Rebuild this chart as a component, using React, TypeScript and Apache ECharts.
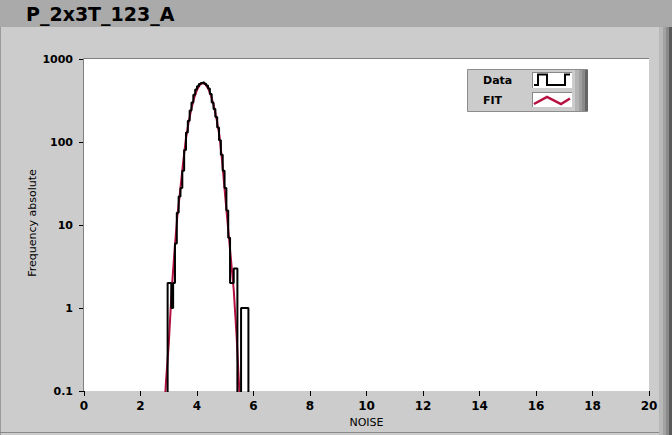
import React, { useEffect, useRef } from "react";
import * as echarts from "echarts";

const TITLE = "P_2x3T_123_A";
const X_NAME = "NOISE";
const Y_NAME = "Frequency absolute";
const LEGEND_NAMES = ["Data", "FIT"];

// histogram bin edges and counts (Data)
const binEdges = [
  2.96, 3.025, 3.09, 3.155, 3.22, 3.285, 3.35, 3.415, 3.48, 3.545, 3.61, 3.675,
  3.74, 3.805, 3.87, 3.935, 4.0, 4.065, 4.13, 4.195, 4.26, 4.325, 4.39, 4.455,
  4.52, 4.585, 4.65, 4.715, 4.78, 4.845, 4.91, 4.975, 5.04, 5.105, 5.17, 5.235,
  5.3, 5.365, 5.43, 5.495, 5.56, 5.625, 5.69, 5.755, 5.82,
];
const dataCounts = [
  2, 2, 1, 2, 6, 14, 22, 28, 45, 80, 130, 180, 240, 300, 370, 430, 470, 500,
  515, 525, 505, 480, 440, 380, 300, 250, 200, 150, 105, 70, 45, 28, 15, 7, 2,
  2, 3, 3, 0, 0, 1, 1, 1, 1,
];

// fit curve (FIT)
const fitX = [
  2.85, 2.9, 3.0, 3.1, 3.2, 3.3, 3.4, 3.5, 3.6, 3.7, 3.8, 3.9, 4.0, 4.1, 4.2,
  4.3, 4.4, 4.5, 4.6, 4.7, 4.8, 4.9, 5.0, 5.1, 5.2, 5.3, 5.4, 5.5, 5.55,
];
const fitY = [
  0.063, 0.126, 0.37, 1.55, 4.7, 12.4, 25, 53, 105, 170, 251, 340, 425, 487,
  512, 495, 440, 358, 268, 184, 116, 54, 22, 9.2, 3.9, 1.66, 0.47, 0.1, 0.05,
];

const FONT = '"DejaVu Sans", Verdana, sans-serif';
const FIT_COLOR = "#B5103F";

export default function App() {
  const ref = useRef<HTMLDivElement>(null);
  useEffect(() => {
    if (!ref.current) return;
    const chart = echarts.init(ref.current, undefined, { renderer: "svg" });

    const FLOOR = 0.01;
    const stepPts: number[][] = [];
    stepPts.push([binEdges[0], FLOOR]);
    for (let i = 0; i < dataCounts.length; i++) {
      const c = dataCounts[i] > 0 ? dataCounts[i] : FLOOR;
      stepPts.push([binEdges[i], c]);
      stepPts.push([binEdges[i + 1], c]);
    }
    stepPts.push([binEdges[binEdges.length - 1], FLOOR]);

    const fitPts = fitX.map((x, i) => [x, fitY[i]]);

    const txt = (text: string, x: number, y: number, font: string, extra: any = {}) => ({
      type: "text",
      x,
      y,
      rotation: extra.rotation || 0,
      z: 120,
      silent: true,
      style: {
        text,
        font,
        fill: "#000",
        textAlign: extra.align || "left",
        align: extra.align || "left",
        textVerticalAlign: "middle",
        verticalAlign: "middle",
      },
    });
    const rect = (x: number, y: number, w: number, h: number, fill: string, z = 100, stroke?: string) => ({
      type: "rect",
      z,
      silent: true,
      shape: { x, y, width: w, height: h },
      style: stroke ? { fill, stroke, lineWidth: 1 } : { fill },
    });
    const line = (x1: number, y1: number, x2: number, y2: number, stroke: string, z = 110, lw = 1) => ({
      type: "line",
      z,
      silent: true,
      shape: { x1, y1, x2, y2 },
      style: { stroke, lineWidth: lw },
    });

    const graphic: any[] = [
      rect(0, 0, 672, 27, "#aaaaaa"),
      txt(TITLE, 26, 14, `bold 19px ${FONT}`),
      txt(Y_NAME, 32, 223, `11px ${FONT}`, { align: "center", rotation: Math.PI / 2 }),
      // right edge strips
      rect(659, 27, 4, 408, "#b8b8b8"),
      rect(663, 27, 3, 408, "#a2a2a2"),
      rect(666, 27, 3, 408, "#8a8a8a"),
      rect(669, 27, 3, 408, "#5a5a5a"),
      line(0.5, 27, 0.5, 435, "#9a9a9a"),
      line(0, 432.5, 659, 432.5, "#8a8a8a"),
      // plot frame top/left
      line(83.5, 58.5, 649, 58.5, "#808080"),
      line(83.5, 58.5, 83.5, 391, "#808080"),
      // legend
      rect(467.5, 69.5, 120, 42, "#cccccc", 110, "#8c8c8c"),
      rect(575, 70, 4, 41, "#b4b4b4", 111),
      rect(579, 70, 3, 41, "#a0a0a0", 111),
      rect(582, 70, 3, 41, "#8a8a8a", 111),
      rect(585, 70, 3, 41, "#666666", 111),
      rect(532, 72, 40, 16, "#ffffff", 111),
      line(532, 72.5, 572, 72.5, "#888888", 112),
      line(532.5, 72, 532.5, 88, "#888888", 112),
      rect(532, 92, 40, 15, "#ffffff", 111),
      line(532, 92.5, 572, 92.5, "#888888", 112),
      line(532.5, 92, 532.5, 107, "#888888", 112),
      txt(LEGEND_NAMES[0], 483, 80, `bold 11px ${FONT}`),
      txt(LEGEND_NAMES[1], 483, 100, `bold 11px ${FONT}`),
      {
        type: "polyline",
        z: 115,
        silent: true,
        shape: {
          points: [
            [534, 85], [538, 85], [538, 74.5], [547, 74.5], [547, 85],
            [565, 85], [565, 74.5], [570, 74.5],
          ],
        },
        style: { stroke: "#000", lineWidth: 2, fill: "none" },
      },
      {
        type: "polyline",
        z: 115,
        silent: true,
        shape: { points: [[534, 104], [547, 97], [561, 104], [570, 98.5]] },
        style: { stroke: FIT_COLOR, lineWidth: 2.5, fill: "none" },
      },
    ];

    const option: any = {
      animation: false,
      backgroundColor: "#cccccc",
      textStyle: { fontFamily: FONT },
      grid: {
        left: 84,
        top: 59,
        width: 565,
        height: 332,
        show: true,
        backgroundColor: "#ffffff",
        borderWidth: 0,
      },
      xAxis: {
        type: "value",
        min: 0,
        max: 20,
        interval: 2,
        axisLine: { show: false },
        axisTick: { show: true, length: 5, lineStyle: { color: "#000", width: 1 } },
        axisLabel: { color: "#000", fontSize: 12, fontWeight: "bold", margin: 9, fontFamily: FONT },
        splitLine: { show: false },
        name: X_NAME,
        nameLocation: "middle",
        nameGap: 25,
        nameTextStyle: { color: "#000", fontSize: 11, fontFamily: FONT },
      },
      yAxis: {
        type: "log",
        logBase: 10,
        min: 0.1,
        max: 1000,
        axisLine: { show: false },
        axisTick: { show: true, length: 5, lineStyle: { color: "#000", width: 1 } },
        axisLabel: {
          color: "#000",
          fontSize: 11,
          fontWeight: "bold",
          margin: 11,
          fontFamily: FONT,
          formatter: (v: number) => {
            const n = Number(v);
            return n < 1 ? n.toFixed(1) : String(Math.round(n));
          },
        },
        splitLine: { show: false },
      },
      series: [
        {
          name: LEGEND_NAMES[1],
          type: "line",
          data: fitPts,
          showSymbol: false,
          symbol: "none",
          clip: true,
          lineStyle: { color: FIT_COLOR, width: 2 },
          z: 2,
        },
        {
          name: LEGEND_NAMES[0],
          type: "line",
          data: stepPts,
          showSymbol: false,
          symbol: "none",
          clip: true,
          lineStyle: { color: "#000", width: 2 },
          z: 3,
        },
      ],
      graphic,
    };
    chart.setOption(option);
    return () => chart.dispose();
  }, []);

  return (
    <div
      ref={ref}
      style={{ position: "fixed", left: 0, top: 0, width: 672, height: 435 }}
    />
  );
}
